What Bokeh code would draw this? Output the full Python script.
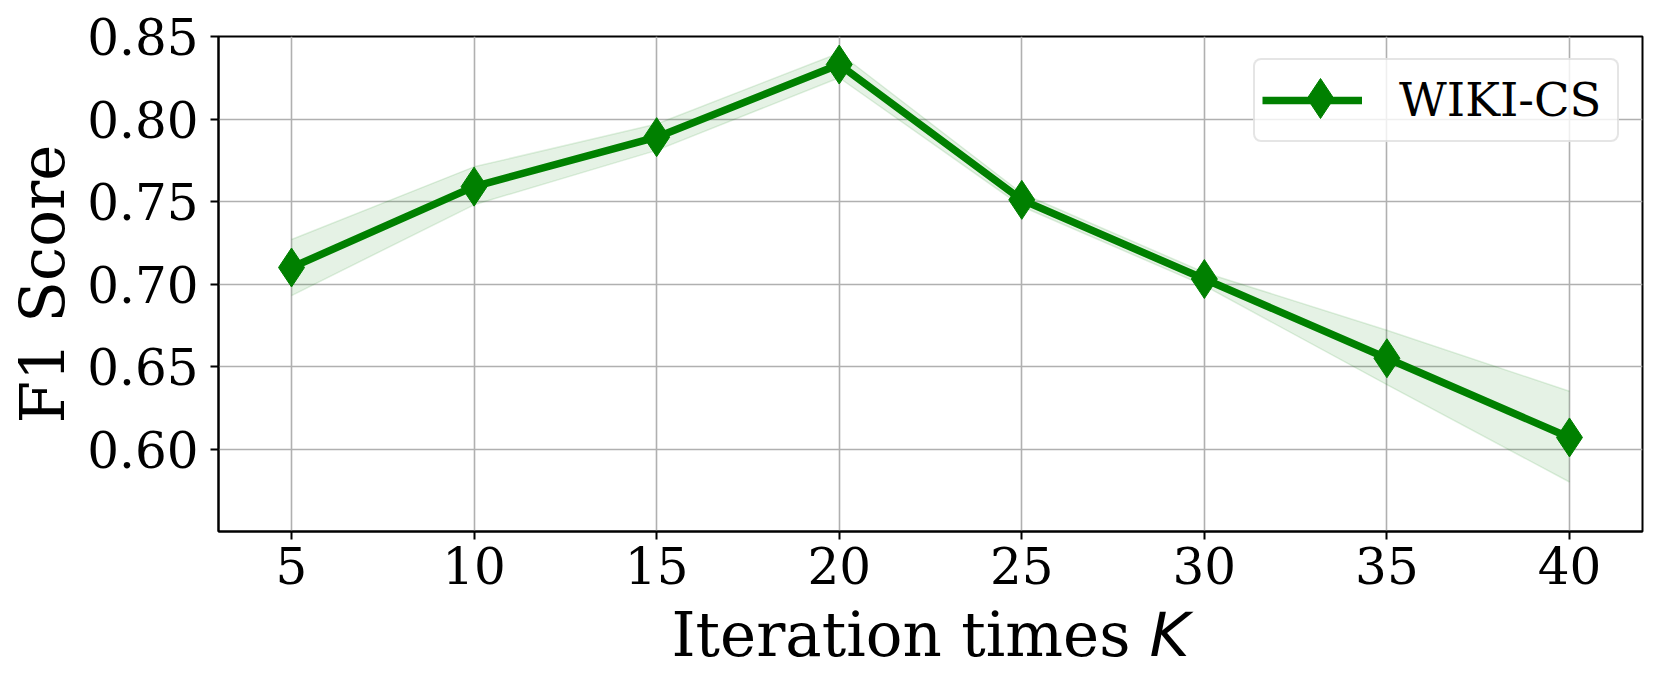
from bokeh.plotting import figure
from bokeh.layouts import column
from bokeh.models import (Range1d, FixedTicker, NumeralTickFormatter, Legend, LegendItem, Label)
from bokeh.embed import file_html
from bokeh.resources import INLINE

# ---- data ----
k_values = [5, 10, 15, 20, 25, 30, 35, 40]
f1_score = [0.710, 0.759, 0.789, 0.833, 0.751, 0.703, 0.655, 0.607]
f1_upper = [0.727, 0.771, 0.797, 0.840, 0.755, 0.707, 0.672, 0.635]
f1_lower = [0.693, 0.748, 0.781, 0.825, 0.747, 0.699, 0.639, 0.580]
x_ticks = [5, 10, 15, 20, 25, 30, 35, 40]
y_ticks = [0.60, 0.65, 0.70, 0.75, 0.80, 0.85]
series_name = "WIKI-CS"
x_label_main = "Iteration times"
x_label_var = "K"
y_label = "F1 Score"

SERIF = "DejaVu Serif"
GREEN = "#008000"

W = 1645
H1 = 611
H2 = 80
OVERLAP = 20

p = figure(width=W, height=H1, output_backend="svg", toolbar_location=None,
           x_range=Range1d(3.0, 42.0), y_range=Range1d(0.55, 0.85),
           min_border_left=218, min_border_right=3, min_border_top=36, min_border_bottom=80)
p.background_fill_color = "white"
p.border_fill_color = "white"
p.outline_line_color = "black"
p.outline_line_width = 2

# grid
for g in (p.xgrid, p.ygrid):
    g.grid_line_color = "#b0b0b0"
    g.grid_line_width = 1.6
p.xgrid.ticker = FixedTicker(ticks=x_ticks)
p.ygrid.ticker = FixedTicker(ticks=y_ticks)

# axes
for ax in (p.xaxis[0], p.yaxis[0]):
    ax.axis_line_color = "black"
    ax.axis_line_width = 2
    ax.major_tick_line_color = "black"
    ax.major_tick_line_width = 2
    ax.major_tick_out = 8
    ax.major_tick_in = 0
    ax.minor_tick_line_color = None
    ax.major_label_text_font = SERIF
    ax.major_label_text_font_size = "50px"
    ax.major_label_text_color = "black"
    ax.axis_label_text_font = SERIF
    ax.axis_label_text_font_style = "normal"
    ax.axis_label_text_color = "black"
p.xaxis.ticker = FixedTicker(ticks=x_ticks)
p.yaxis.ticker = FixedTicker(ticks=y_ticks)
p.yaxis.formatter = NumeralTickFormatter(format="0.00")
p.xaxis.major_label_standoff = 7
p.yaxis.major_label_standoff = 12
p.yaxis.axis_label = y_label
p.yaxis.axis_label_text_font_size = "61px"
p.yaxis.axis_label_standoff = 6

# shaded band
p.varea(x=k_values, y1=f1_lower, y2=f1_upper, fill_color=GREEN, fill_alpha=0.1)
p.line(x=k_values, y=f1_upper, line_color=GREEN, line_alpha=0.12, line_width=1.5)
p.line(x=k_values, y=f1_lower, line_color=GREEN, line_alpha=0.12, line_width=1.5)

# main line + markers
ln = p.line(x=k_values, y=f1_score, line_color=GREEN, line_width=7.5)
mk = p.scatter(x=k_values, y=f1_score, marker="diamond", size=39,
               fill_color=GREEN, line_color=GREEN, line_width=1)

# legend box: line + label
legend = Legend(items=[LegendItem(label=series_name, renderers=[ln])],
                location=(1035, 389))
legend.margin = 0
legend.padding = 7
legend.glyph_width = 100
legend.glyph_height = 66
legend.label_standoff = 37
legend.label_width = 211
legend.label_text_font = SERIF
legend.label_text_font_size = "46.5px"
legend.label_text_color = "black"
legend.border_line_color = "#cccccc"
legend.border_line_width = 2
legend.background_fill_color = "white"
legend.background_fill_alpha = 0.8
try:
    legend.border_radius = 8
except Exception:
    pass
p.add_layout(legend, "center")

# legend marker overlay (larger diamond, as in the reference)
legend_mk = Legend(items=[LegendItem(label="", renderers=[mk])],
                   location=(1052, 383))
legend_mk.margin = 0
legend_mk.padding = 0
legend_mk.glyph_width = 100
legend_mk.glyph_height = 100
legend_mk.label_standoff = 0
legend_mk.label_width = 0
legend_mk.label_height = 0
legend_mk.label_text_font_size = "1px"
legend_mk.border_line_color = None
legend_mk.background_fill_alpha = 0
legend_mk.inactive_fill_alpha = 0
p.add_layout(legend_mk, "center")

# x axis title strip (real text, with italic K); transparent, slightly overlapping
p2 = figure(width=W, height=H2, output_backend="svg", toolbar_location=None,
            x_axis_location=None, y_axis_location=None, min_border=0,
            x_range=Range1d(0, 1), y_range=Range1d(0, 1))
p2.margin = (-OVERLAP, 0, 0, 0)
p2.outline_line_color = None
p2.background_fill_alpha = 0
p2.border_fill_alpha = 0
p2.grid.visible = False
p2.add_layout(Label(x=453, y=37, x_units="screen", y_units="screen",
                    text=x_label_main, text_font=SERIF, text_font_size="61px",
                    text_align="left", text_baseline="alphabetic", text_color="black"))
p2.add_layout(Label(x=931, y=37, x_units="screen", y_units="screen",
                    text=x_label_var, text_font="DejaVu Sans", text_font_style="italic",
                    text_font_size="61px", text_align="left", text_baseline="alphabetic",
                    text_color="black"))

layout = column(p, p2, spacing=0)
open("out.html", "w").write(file_html(layout, INLINE))
